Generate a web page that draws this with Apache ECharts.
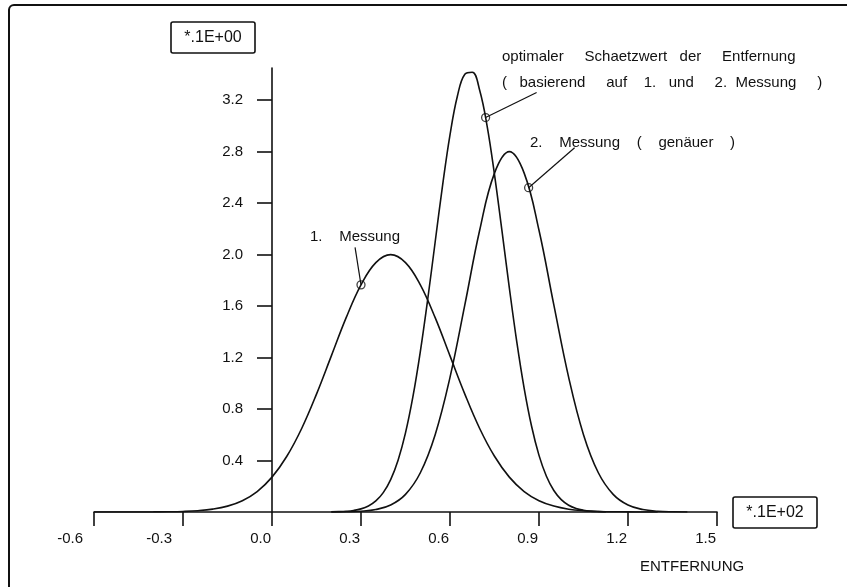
<!DOCTYPE html>
<html>
<head>
<meta charset="utf-8">
<script src="https://cdn.jsdelivr.net/npm/echarts@6/dist/echarts.min.js"></script>
<style>
html,body{margin:0;padding:0;background:#fff;}
#chart{width:847px;height:587px;}
</style>
</head>
<body>
<div id="chart"></div>
<script>
// ---- data ----
var xTickLabels = [-0.6, -0.3, 0.0, 0.3, 0.6, 0.9, 1.2, 1.5];
var yTickLabels = [0.4, 0.8, 1.2, 1.6, 2.0, 2.4, 2.8, 3.2];

// 1. Messung
var x1 = [-0.6,-0.55,-0.5,-0.45,-0.4,-0.35,-0.3,-0.25,-0.2,-0.15,-0.1,-0.05,0,0.05,0.1,0.15,0.2,0.25,0.3,0.35,0.4,0.45,0.5,0.55,0.6,0.65,0.7,0.75,0.8,0.85,0.9,0.95,1.0,1.05,1.1,1.15,1.2,1.25,1.3];
var y1 = [0,0,0.0001,0.0002,0.0007,0.0018,0.0044,0.0102,0.0222,0.0456,0.088,0.159,0.271,0.433,0.649,0.916,1.213,1.51,1.765,1.938,2.0,1.938,1.765,1.51,1.213,0.916,0.649,0.433,0.271,0.159,0.088,0.046,0.022,0.010,0.004,0.002,0.001,0.0002,0];

// 2. Messung (genauer)
var x2 = [0.2,0.25,0.3,0.35,0.4,0.45,0.5,0.55,0.6,0.65,0.7,0.75,0.8,0.85,0.9,0.95,1.0,1.05,1.1,1.15,1.2,1.25,1.3,1.35,1.4];
var y2 = [0.0004,0.0016,0.0059,0.0191,0.0544,0.137,0.305,0.601,1.046,1.609,2.189,2.633,2.8,2.633,2.189,1.609,1.046,0.601,0.305,0.137,0.054,0.019,0.006,0.0016,0.0004];

// optimaler Schaetzwert
var x3 = [0.2,0.225,0.25,0.275,0.3,0.325,0.35,0.375,0.4,0.425,0.45,0.475,0.5,0.525,0.55,0.575,0.6,0.625,0.65,0.675,0.7,0.725,0.75,0.775,0.8,0.825,0.85,0.875,0.9,0.925,0.95,0.975,1.0,1.025,1.05,1.075,1.1,1.125];
var y3 = [0.0011,0.0026,0.0057,0.012,0.0242,0.0467,0.0858,0.1506,0.252,0.403,0.615,0.896,1.247,1.655,2.098,2.538,2.931,3.232,3.401,3.417,3.277,3.001,2.622,2.188,1.742,1.324,0.961,0.666,0.44,0.278,0.167,0.0964,0.0529,0.0277,0.0139,0.0066,0.003,0.0013];

// marker circles on the curves and leader-line ends
var markerX = [0.30, 0.72, 0.865];
var markerY = [1.765, 3.065, 2.52];
var leaderEndX = [0.28, 0.892, 1.02];
var leaderEndY = [2.056, 3.26, 2.83];

var FONT = '"Liberation Sans", Arial, Helvetica, sans-serif';
var INK = '#111';

function pairs(xs, ys){ return xs.map(function(v,i){ return [v, ys[i]]; }); }

var chart = echarts.init(document.getElementById('chart'), null, {renderer:'canvas'});

var curveStyle = {color: INK, width: 1.6};
var series = [
  {type:'line', data: pairs(x1,y1), smooth:0.4, showSymbol:false, lineStyle:curveStyle, silent:true},
  {type:'line', data: pairs(x2,y2), smooth:0.4, showSymbol:false, lineStyle:curveStyle, silent:true},
  {type:'line', data: pairs(x3,y3), smooth:0.4, showSymbol:false, lineStyle:curveStyle, silent:true}
];
for (var i=0;i<markerX.length;i++){
  series.push({type:'line', data:[[markerX[i],markerY[i]],[leaderEndX[i],leaderEndY[i]]],
    showSymbol:false, lineStyle:{color:INK,width:1.2}, silent:true, z:3});
}
series.push({type:'scatter', data: pairs(markerX, markerY), symbol:'circle', symbolSize:8,
  itemStyle:{color:'rgba(255,255,255,0)', borderColor:INK, borderWidth:1.3}, z:4, silent:true});

function txt(x, y, s, size, align){
  return {type:'text', x:x, y:y, z:10, style:{text:s, font: (size||15)+'px '+FONT, fill:INK,
    align: align||'left', textAlign: align||'left', verticalAlign:'middle', textVerticalAlign:'middle'}};
}

var option = {
  animation:false,
  backgroundColor:'#fff',
  grid:{left:94, right:130, top:68, bottom:75},
  xAxis:{
    type:'value', min:-0.6, max:1.5, interval:0.3,
    axisLine:{onZero:false, lineStyle:{color:INK, width:1.6}},
    axisTick:{show:true, length:14, lineStyle:{color:INK, width:1.6}},
    splitLine:{show:false},
    axisLabel:{
      margin:19, align:'right', color:INK, fontSize:15, fontFamily:FONT,
      formatter:function(v){
        var s = (Math.round(v*10)/10).toFixed(1);
        return v < -1e-9 ? '{n|'+s+'}' : '{p|'+s+'}';
      },
      rich:{
        n:{padding:[0,11,0,0], fontSize:15, fontFamily:FONT, color:INK},
        p:{padding:[0,1,0,0], fontSize:15, fontFamily:FONT, color:INK}
      }
    }
  },
  yAxis:{
    type:'value', min:0, max:3.45,
    axisLine:{show:true, onZero:true, lineStyle:{color:INK, width:1.6}},
    axisTick:{show:true, length:15, customValues:yTickLabels, lineStyle:{color:INK, width:1.6}},
    splitLine:{show:false},
    axisLabel:{customValues:yTickLabels, margin:-149, align:'right', color:INK, fontSize:15, fontFamily:FONT,
      formatter:function(v){ return (Math.round(v*10)/10).toFixed(1); }}
  },
  series: series,
  graphic:[
    {type:'rect', shape:{x:9, y:5, width:900, height:700, r:5}, style:{fill:'none', stroke:INK, lineWidth:2}, z:1, silent:true},
    {type:'rect', shape:{x:171, y:22, width:84, height:31, r:2}, style:{fill:'#fff', stroke:INK, lineWidth:1.6}, z:9},
    txt(213, 38, '*.1E+00', 16, 'center'),
    {type:'rect', shape:{x:733, y:497, width:84, height:31, r:2}, style:{fill:'#fff', stroke:INK, lineWidth:1.6}, z:9},
    txt(775, 513, '*.1E+02', 16, 'center'),
    txt(640, 567, 'ENTFERNUNG', 15),
    txt(502, 57, 'optimaler     Schaetzwert   der     Entfernung', 15),
    txt(502, 83, '(   basierend     auf    1.   und     2.  Messung     )', 15),
    txt(530, 143, '2.    Messung    (    genäuer    )', 15),
    txt(310, 237, '1.    Messung', 15)
  ]
};
chart.setOption(option);
</script>
</body>
</html>
